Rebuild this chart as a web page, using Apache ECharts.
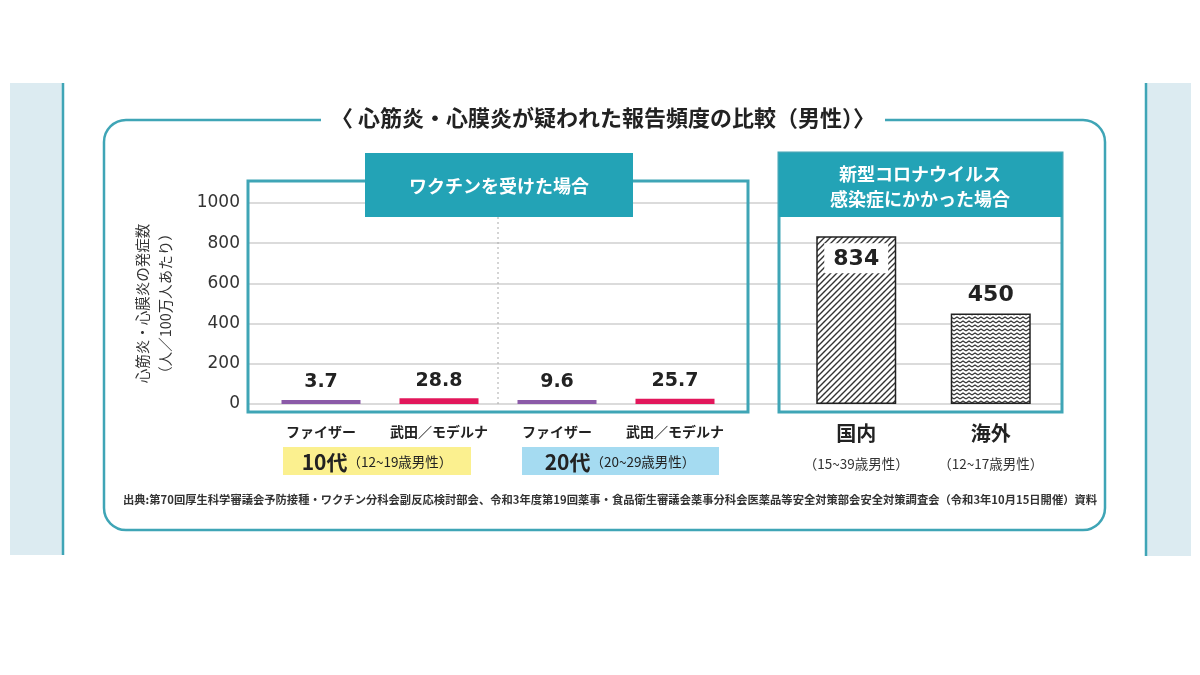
<!DOCTYPE html>
<html><head><meta charset="utf-8">
<script src="https://cdn.jsdelivr.net/npm/echarts@6/dist/echarts.min.js"></script>
<style>html,body{margin:0;padding:0;background:#fff;}#c{width:1200px;height:675px;}</style>
</head><body><div id="c"></div>
<script>
// ---- data ----
const vaccineCategories = ['ファイザー', '武田／モデルナ', 'ファイザー', '武田／モデルナ'];
const vaccineValues = [3.7, 28.8, 9.6, 25.7];
const ageGroupLabels = ['10代', '20代'];
const ageGroupRanges = ['（12~19歳男性）', '（20~29歳男性）'];
const infectionCategories = ['国内', '海外'];
const infectionSubLabels = ['（15~39歳男性）', '（12~17歳男性）'];
const infectionValues = [834, 450];
const yTickValues = [0, 200, 400, 600, 800, 1000];
const titleText = '〈 心筋炎・心膜炎が疑われた報告頻度の比較（男性）〉';
const vaccineHeader = 'ワクチンを受けた場合';
const infectionHeader = '新型コロナウイルス\n感染症にかかった場合';
const yAxisName = '心筋炎・心膜炎の発症数\n（人／100万人あたり）';
const sourceText = '出典:第70回厚生科学審議会予防接種・ワクチン分科会副反応検討部会、令和3年度第19回薬事・食品衛生審議会薬事分科会医薬品等安全対策部会安全対策調査会（令和3年10月15日開催）資料';

// ---- styles ----
const TEAL = '#3fa5b6';
const HEAD = '#23a3b6';
const JP = "'Noto Sans CJK JP', 'Noto Sans', sans-serif";
const NUM = "'DejaVu Sans', 'Liberation Sans', sans-serif";
const vaccineColors = ['#8b5aa8', '#e2175b', '#8b5aa8', '#e2175b'];
const ageBoxColors = ['#fbf08f', '#a5dbf1'];

function hatch() {
  const c = document.createElement('canvas'); c.width = 6; c.height = 6;
  const g = c.getContext('2d');
  g.fillStyle = '#fff'; g.fillRect(0, 0, 6, 6);
  g.strokeStyle = '#333'; g.lineWidth = 1.4; g.beginPath();
  g.moveTo(-1, 7); g.lineTo(7, -1);
  g.moveTo(-1, 1); g.lineTo(1, -1);
  g.moveTo(5, 7); g.lineTo(7, 5);
  g.stroke(); return c;
}
function wave() {
  const c = document.createElement('canvas'); c.width = 6; c.height = 4;
  const g = c.getContext('2d');
  g.fillStyle = '#fff'; g.fillRect(0, 0, 6, 4);
  g.strokeStyle = '#333'; g.lineWidth = 1.1; g.beginPath();
  g.moveTo(0, 3); g.lineTo(3, 1); g.lineTo(6, 3);
  g.stroke(); return c;
}
const patterns = [hatch(), wave()];

const chart = echarts.init(document.getElementById('c'), null, {renderer: 'canvas'});

const TOP = 203, BOTTOM = 675 - 404;

const graphics = [
  {type: 'rect', shape: {x: 10, y: 83, width: 53, height: 472}, style: {fill: '#dcebf1'}, z: 1},
  {type: 'line', shape: {x1: 63, y1: 83, x2: 63, y2: 555}, style: {stroke: TEAL, lineWidth: 2.5}, z: 1},
  {type: 'rect', shape: {x: 1146, y: 83, width: 45, height: 473}, style: {fill: '#dcebf1'}, z: 1},
  {type: 'line', shape: {x1: 1146, y1: 83, x2: 1146, y2: 556}, style: {stroke: TEAL, lineWidth: 2.5}, z: 1},
  {type: 'rect', shape: {x: 104, y: 120, width: 1001, height: 410, r: 22}, style: {fill: 'none', stroke: TEAL, lineWidth: 2.5}, z: 1},
  {type: 'text', x: 603, y: 118, z: 20,
    style: {text: titleText, fill: '#222', font: 'bold 22px ' + JP, textAlign: 'center', textVerticalAlign: 'middle',
      backgroundColor: '#fff', padding: [2, 10]}},
  {type: 'rect', shape: {x: 248, y: 181, width: 500, height: 231}, style: {fill: 'none', stroke: TEAL, lineWidth: 3}, z: 15},
  {type: 'line', shape: {x1: 498, y1: 217, x2: 498, y2: 404}, style: {stroke: '#aaa', lineWidth: 1, lineDash: [2, 3]}, z: 15},
  {type: 'rect', shape: {x: 365, y: 153, width: 268, height: 64}, style: {fill: HEAD}, z: 16},
  {type: 'text', x: 499, y: 186, z: 17,
    style: {text: vaccineHeader, fill: '#fff', font: 'bold 18px ' + JP, textAlign: 'center', textVerticalAlign: 'middle'}},
  {type: 'rect', shape: {x: 779, y: 153, width: 283, height: 259}, style: {fill: 'none', stroke: TEAL, lineWidth: 3}, z: 15},
  {type: 'rect', shape: {x: 779, y: 153, width: 283, height: 64}, style: {fill: HEAD}, z: 16},
  {type: 'text', x: 920, y: 187, z: 17,
    style: {text: infectionHeader, fill: '#fff', font: 'bold 18px ' + JP, textAlign: 'center', textVerticalAlign: 'middle', lineHeight: 25}},
  {type: 'text', x: 123, y: 500, z: 17,
    style: {text: sourceText, fill: '#333', font: 'bold 11.3px ' + JP, textAlign: 'left', textVerticalAlign: 'middle'}}
];

const ageBoxes = [{x: 283, w: 188, cx: 377}, {x: 522, w: 197, cx: 620}];
ageGroupLabels.forEach((lab, i) => {
  graphics.push({type: 'rect', shape: {x: ageBoxes[i].x, y: 447, width: ageBoxes[i].w, height: 28}, style: {fill: ageBoxColors[i]}, z: 15});
  graphics.push({type: 'text', x: ageBoxes[i].cx, y: 462, z: 16,
    style: {text: '{a|' + lab + '}{b|' + ageGroupRanges[i] + '}', textAlign: 'center', textVerticalAlign: 'middle',
      rich: {a: {font: 'bold 21px ' + JP, fill: '#222', color: '#222'}, b: {font: '13.5px ' + JP, fill: '#222', color: '#222'}}}});
});

const option = {
  animation: false,
  grid: [
    {left: 248, right: 1200 - 1062, top: TOP, bottom: BOTTOM},
    {left: 262, width: 472, top: TOP, bottom: BOTTOM},
    {left: 789, width: 269, top: TOP, bottom: BOTTOM}
  ],
  xAxis: [
    {gridIndex: 0, type: 'category', data: [''], show: false},
    {gridIndex: 1, type: 'category', data: vaccineCategories,
      axisLine: {show: false}, axisTick: {show: false},
      axisLabel: {interval: 0, margin: 21, fontFamily: JP, fontWeight: 'bold', fontSize: 14, color: '#222'}},
    {gridIndex: 2, type: 'category', data: infectionCategories,
      axisLine: {show: false}, axisTick: {show: false},
      axisLabel: {interval: 0, margin: 17, formatter: (v, i) => '{a|' + v + '}\n{b|' + infectionSubLabels[i] + '}',
        rich: {a: {fontFamily: JP, fontWeight: 'bold', fontSize: 20, color: '#222', lineHeight: 24},
               b: {fontFamily: JP, fontSize: 13.5, color: '#333', lineHeight: 38}}}}
  ],
  yAxis: [
    {gridIndex: 0, type: 'value', min: yTickValues[0], max: yTickValues[yTickValues.length - 1], interval: yTickValues[1] - yTickValues[0],
      axisLine: {show: false}, axisTick: {show: false},
      axisLabel: {margin: 8, fontFamily: NUM, fontSize: 17, color: '#333', formatter: v => String(v)},
      splitLine: {lineStyle: {color: '#cfcfcf', width: 1.5}},
      name: yAxisName, nameLocation: 'middle', nameRotate: 90, nameGap: 71,
      nameTextStyle: {fontFamily: JP, fontSize: 14.5, color: '#333', lineHeight: 23}},
    {gridIndex: 1, type: 'value', min: 0, max: 1000, show: false},
    {gridIndex: 2, type: 'value', min: 0, max: 1000, show: false}
  ],
  series: [
    {type: 'bar', xAxisIndex: 1, yAxisIndex: 1, barWidth: 79, barMinHeight: 4, z: 5,
      data: vaccineValues.map((v, i) => ({value: v, itemStyle: {color: vaccineColors[i]}})),
      label: {show: true, position: 'top', distance: 8, fontFamily: NUM, fontWeight: 'bold', fontSize: 19, color: '#222'}},
    {type: 'bar', xAxisIndex: 2, yAxisIndex: 2, barWidth: 80, z: 5,
      data: infectionValues.map((v, i) => ({
        value: v,
        itemStyle: {color: {image: patterns[i], repeat: 'repeat'}, borderColor: '#222', borderWidth: 1.5},
        label: i === 0 ? {position: 'insideTop', distance: 7, backgroundColor: '#fff', padding: [5, 9, 3, 9]} : {position: 'top', distance: 7}
      })),
      label: {show: true, fontFamily: NUM, fontWeight: 'bold', fontSize: 22, color: '#222'}}
  ],
  graphic: graphics
};
chart.setOption(option);
</script></body></html>
